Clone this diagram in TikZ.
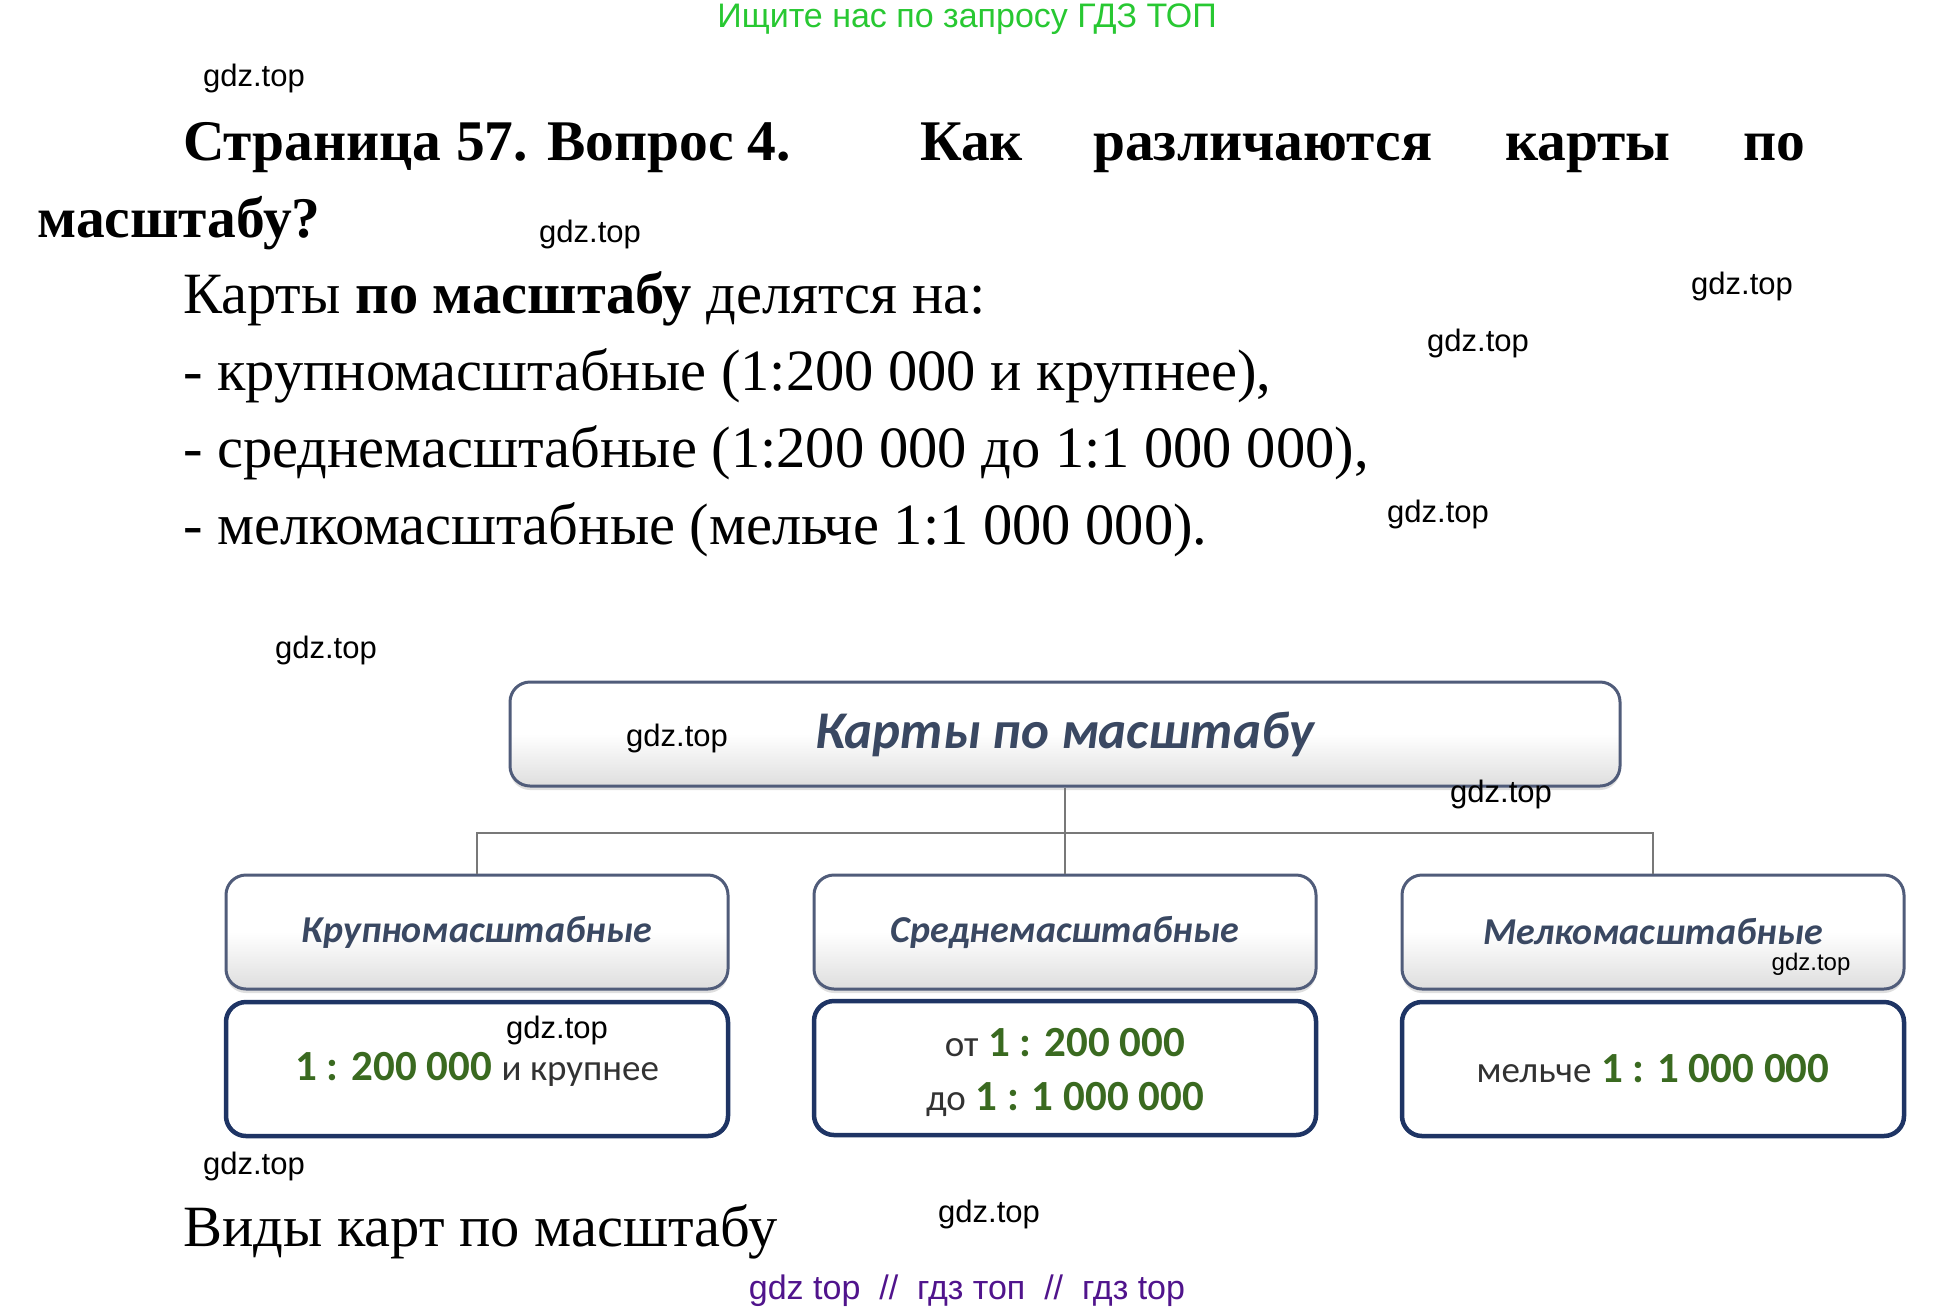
\documentclass[tikz,border=0pt]{standalone}
\usepackage{fontspec}
\setmainfont{Liberation Serif}
\newfontfamily\wmfont{Liberation Sans}
\newfontfamily\dgm{Carlito}
\usetikzlibrary{shadows}
\definecolor{topgreen}{RGB}{40,200,50}
\definecolor{wmpurple}{RGB}{80,20,140}
\definecolor{hdrtext}{RGB}{58,72,98}
\definecolor{hdrborder}{RGB}{80,92,122}
\definecolor{valborder}{RGB}{30,52,100}
\definecolor{valgreen}{RGB}{58,106,32}
\definecolor{valdark}{RGB}{50,50,50}
\definecolor{connc}{RGB}{120,120,120}
\newcommand{\gr}[1]{{\fontsize{43}{54}\selectfont\bfseries\color{valgreen}#1}}
\newcommand{\dk}[1]{{\fontsize{37}{54}\selectfont\color{valdark}#1}}
\tikzset{
  wm/.style={font=\wmfont\fontsize{31}{36}\selectfont, text=black, inner sep=0pt},
  body/.style={font=\fontsize{58.5}{66}\selectfont, anchor=base west, inner sep=0pt},
  ttl/.style={font=\fontsize{57.5}{66}\selectfont\bfseries, anchor=base west, inner sep=0pt},
  hdrbox/.style={draw=hdrborder, line width=3pt, rounded corners=20pt,
    top color=white, bottom color=black!13, middle color=white,
    drop shadow={shadow xshift=0pt, shadow yshift=-4pt, opacity=0.25, fill=black!50},
    text=hdrtext, font=\dgm\bfseries\itshape\fontsize{38}{44}\selectfont,
    minimum width=502pt, minimum height=114pt, inner sep=0pt},
  valbox/.style={draw=valborder, line width=4.5pt, rounded corners=20pt, fill=white,
    font=\dgm\fontsize{43}{54}\selectfont, align=center,
    minimum width=502pt, minimum height=134pt, inner sep=0pt},
  conn/.style={draw=connc, line width=2.2pt},
}
\begin{document}
\begin{tikzpicture}[x=1pt,y=1pt]
\path[use as bounding box, fill=white] (0,0) rectangle (1934,-1314);

% header line
\node[font=\wmfont\fontsize{34}{38}\selectfont, text=topgreen, inner sep=0pt] (head) at (967,-19) {Ищите нас по запросу ГДЗ ТОП};

% title
\node[ttl] (t1) at (183,-160) {Страница 57. Вопрос 4.};
\node[ttl] (t2) at (920,-160) {Как};
\node[ttl] (t3) at (1093,-160) {различаются};
\node[ttl] (t4) at (1505,-160) {карты};
\node[ttl] (t5) at (1743,-160) {по};
\node[ttl] (t6) at (37,-237) {масштабу?};

% body
\node[body] (b1) at (183,-313) {Карты \textbf{по масштабу} делятся на:};
\node[body] (b2) at (183,-390) {- крупномасштабные (1:200 000 и крупнее),};
\node[body] (b3) at (183,-467) {- среднемасштабные (1:200 000 до 1:1 000 000),};
\node[body] (b4) at (183,-544) {- мелкомасштабные (мельче 1:1 000 000).};
\node[body] (cap) at (183,-1246) {Виды карт по масштабу};

% diagram
\node[hdrbox, font=\dgm\bfseries\itshape\fontsize{53}{58}\selectfont, minimum width=1110pt, minimum height=104pt] (top) at (1065,-734) {Карты по масштабу};
\node[hdrbox] (h1) at (477,-932) {Крупномасштабные};
\node[hdrbox] (h2) at (1065,-932) {Среднемасштабные};
\node[hdrbox] (h3) at (1653,-932) {Мелкомасштабные};
\node[valbox] (v1) at (477,-1069) {\gr{1 : 200 000} \dk{и крупнее}};
\node[valbox] (v2) at (1065,-1068) {};
\node[font=\dgm\fontsize{43}{54}\selectfont, align=center, inner sep=0pt] (v2t) at (1065,-1072) {\dk{от} \gr{1 : 200 000}\\ \dk{до} \gr{1 : 1 000 000}};
\node[valbox] (v3) at (1653,-1069) {\dk{мельче} \gr{1 : 1 000 000}};

\coordinate (jc) at (1065,-833);
\draw[conn] (top.south) -- (jc);
\draw[conn] (h1.north) |- (jc) -| (h3.north);
\draw[conn] (jc) -- (h2.north);

% watermarks
\node[wm] (w1) at (254,-78) {gdz.top};
\node[wm] (w2) at (590,-234) {gdz.top};
\node[wm] (w3) at (1742,-286) {gdz.top};
\node[wm] (w4) at (1478,-343) {gdz.top};
\node[wm] (w5) at (1438,-514) {gdz.top};
\node[wm] (w6) at (326,-650) {gdz.top};
\node[wm] (w7) at (677,-738) {gdz.top};
\node[wm] (w8) at (1501,-794) {gdz.top};
\node[wm] (w9) at (557,-1030) {gdz.top};
\node[wm, font=\wmfont\fontsize{24}{28}\selectfont] (w10) at (1811,-964) {gdz.top};
\node[wm] (w11) at (254,-1166) {gdz.top};
\node[wm] (w12) at (989,-1214) {gdz.top};

\node[font=\wmfont\fontsize{34}{40}\selectfont, text=wmpurple, inner sep=0pt] (foot) at (967,-1291) {gdz top\ \ //\ \ гдз топ\ \ //\ \ гдз top};
\end{tikzpicture}
\end{document}
